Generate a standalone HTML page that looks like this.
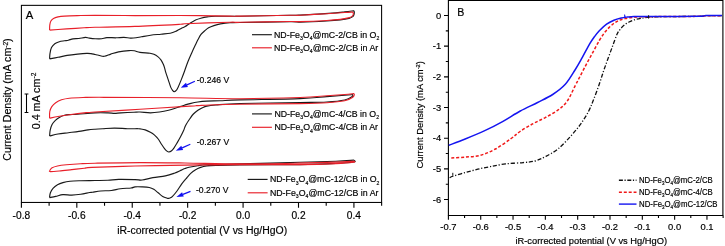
<!DOCTYPE html>
<html><head><meta charset="utf-8"><title>CV and LSV curves</title><style>html,body{margin:0;padding:0;background:#fff}</style></head><body>
<svg width="725" height="246" viewBox="0 0 725 246" style="display:block;will-change:transform;font-family:'Liberation Sans',sans-serif" fill="#000"><style>text{stroke:#000;stroke-width:0.18px;paint-order:stroke}</style>
<rect width="725" height="246" fill="#fff"/>
<rect x="21.4" y="5.35" width="360.20000000000005" height="197.10" fill="none" stroke="#000" stroke-width="1.05"/>
<path d="M21.40,202.45v5.2M49.11,202.45v3.2M76.82,202.45v5.2M104.53,202.45v3.2M132.24,202.45v5.2M159.95,202.45v3.2M187.66,202.45v5.2M215.37,202.45v3.2M243.08,202.45v5.2M270.79,202.45v3.2M298.50,202.45v5.2M326.21,202.45v3.2M353.92,202.45v5.2M381.63,202.45v3.2" stroke="#000" stroke-width="1.1" fill="none"/>
<text x="21.40" y="218.6" font-size="10.2" text-anchor="middle">-0.8</text>
<text x="76.82" y="218.6" font-size="10.2" text-anchor="middle">-0.6</text>
<text x="132.24" y="218.6" font-size="10.2" text-anchor="middle">-0.4</text>
<text x="187.66" y="218.6" font-size="10.2" text-anchor="middle">-0.2</text>
<text x="243.08" y="218.6" font-size="10.2" text-anchor="middle">0.0</text>
<text x="298.50" y="218.6" font-size="10.2" text-anchor="middle">0.2</text>
<text x="353.92" y="218.6" font-size="10.2" text-anchor="middle">0.4</text>
<text x="202.2" y="234.3" font-size="10.45" text-anchor="middle">iR-corrected potential (V vs Hg/HgO)</text>
<text transform="translate(11.2,99.5) rotate(-90)" font-size="10.65" text-anchor="middle">Current Density (mA cm<tspan font-size="6.60" dy="-3.6">-2</tspan><tspan dy="3.6">)</tspan></text>
<text x="25.8" y="19.4" font-size="11.3">A</text>
<path d="M26.5,94.0V112.4M24.6,94.0h3.8M24.6,112.4h3.8" stroke="#000" stroke-width="1.05" fill="none"/>
<text transform="translate(40.0,101) rotate(-90)" font-size="10.75" text-anchor="middle">0.4 mA cm<tspan font-size="6.6" dy="-3.8">-2</tspan></text>
<path d="M49.60,58.90C49.67,57.98 49.68,55.28 50.00,53.40C50.32,51.52 50.70,49.22 51.50,47.60C52.30,45.98 53.50,44.68 54.80,43.70C56.10,42.72 57.68,42.18 59.30,41.70C60.92,41.22 62.98,41.05 64.50,40.80C66.02,40.55 66.98,40.52 68.40,40.20C69.82,39.88 71.25,39.18 73.00,38.90C74.75,38.62 76.83,38.75 78.90,38.50C80.97,38.25 83.67,37.47 85.40,37.40C87.13,37.33 87.67,37.88 89.30,38.10C90.93,38.32 93.13,38.60 95.20,38.70C97.27,38.80 99.75,38.88 101.70,38.70C103.65,38.52 104.52,37.75 106.90,37.60C109.28,37.45 113.17,37.83 116.00,37.80C118.83,37.77 121.50,37.35 123.90,37.40C126.30,37.45 128.38,38.03 130.40,38.10C132.42,38.17 134.15,38.02 136.00,37.80C137.85,37.58 139.07,37.23 141.50,36.80C143.93,36.37 147.35,35.63 150.60,35.20C153.85,34.77 157.73,34.52 161.00,34.20C164.27,33.88 167.58,33.85 170.20,33.30C172.82,32.75 174.75,31.77 176.70,30.90C178.65,30.03 180.48,28.82 181.90,28.10C183.32,27.38 183.78,27.45 185.20,26.60C186.62,25.75 188.67,24.10 190.40,23.00C192.13,21.90 193.87,20.80 195.60,20.00C197.33,19.20 198.85,18.72 200.80,18.20C202.75,17.68 204.90,17.22 207.30,16.90C209.70,16.58 209.75,16.42 215.20,16.30C220.65,16.18 227.53,16.37 240.00,16.20C252.47,16.03 280.00,15.48 290.00,15.30C300.00,15.12 292.37,15.50 300.00,15.10C307.63,14.70 328.35,13.43 335.80,12.90C343.25,12.37 341.72,12.27 344.70,11.90C347.68,11.53 352.20,10.90 353.70,10.70C353.80,10.92 354.25,11.37 354.30,12.00C354.35,12.63 354.25,13.73 354.00,14.50C353.75,15.27 353.63,15.95 352.80,16.60C351.97,17.25 351.08,17.85 349.00,18.40C346.92,18.95 344.00,19.47 340.30,19.90C336.60,20.33 333.52,20.63 326.80,21.00C320.08,21.37 306.13,21.97 300.00,22.10C293.87,22.23 300.00,21.73 290.00,21.80C280.00,21.87 250.00,22.35 240.00,22.50C230.00,22.65 233.27,22.47 230.00,22.70C226.73,22.93 223.08,23.42 220.40,23.90C217.72,24.38 215.87,24.95 213.90,25.60C211.93,26.25 210.13,26.93 208.60,27.80C207.07,28.67 206.00,29.65 204.70,30.80C203.40,31.95 201.92,33.23 200.80,34.70C199.68,36.17 198.87,37.97 198.00,39.60C197.13,41.23 196.65,42.28 195.60,44.50C194.55,46.72 193.00,49.98 191.70,52.90C190.40,55.82 189.00,58.95 187.80,62.00C186.60,65.05 185.58,68.27 184.50,71.20C183.42,74.13 182.38,76.90 181.30,79.60C180.22,82.30 178.88,85.55 178.00,87.40C177.12,89.25 176.65,89.98 176.00,90.70C175.35,91.42 174.63,91.70 174.10,91.70C173.57,91.70 173.35,91.42 172.80,90.70C172.25,89.98 171.57,89.25 170.80,87.40C170.03,85.55 169.07,82.20 168.20,79.60C167.33,77.00 166.20,73.73 165.60,71.80C165.00,69.87 164.98,69.25 164.60,68.00C164.22,66.75 163.88,65.62 163.30,64.30C162.72,62.98 162.02,61.38 161.10,60.10C160.18,58.82 159.00,57.58 157.80,56.60C156.60,55.62 155.20,54.77 153.90,54.20C152.60,53.63 152.32,53.50 150.00,53.20C147.68,52.90 142.62,52.80 140.00,52.40C137.38,52.00 136.13,51.10 134.30,50.80C132.47,50.50 131.62,50.42 129.00,50.60C126.38,50.78 121.63,51.32 118.60,51.90C115.57,52.48 113.18,53.37 110.80,54.10C108.42,54.83 106.47,56.15 104.30,56.30C102.13,56.45 99.35,55.30 97.80,55.00C96.25,54.70 96.13,54.73 95.00,54.50C93.87,54.27 92.38,53.78 91.00,53.60C89.62,53.42 88.93,53.32 86.70,53.40C84.47,53.48 80.87,53.77 77.60,54.10C74.33,54.43 70.37,54.87 67.10,55.40C63.83,55.93 60.92,56.72 58.00,57.30C55.08,57.88 51.00,58.63 49.60,58.90" fill="none" stroke="#1a1a1a" stroke-width="1.15" stroke-linejoin="round"/>
<path d="M49.60,30.10C49.63,29.23 49.58,26.42 49.80,24.90C50.02,23.38 50.28,22.08 50.90,21.00C51.52,19.92 52.32,19.08 53.50,18.40C54.68,17.72 56.17,17.28 58.00,16.90C59.83,16.52 61.23,16.32 64.50,16.10C67.77,15.88 72.52,15.73 77.60,15.60C82.68,15.47 85.43,15.30 95.00,15.30C104.57,15.30 120.83,15.57 135.00,15.60C149.17,15.63 164.17,15.42 180.00,15.50C195.83,15.58 220.00,16.00 230.00,16.10C240.00,16.20 230.00,16.23 240.00,16.10C250.00,15.97 280.00,15.45 290.00,15.30C300.00,15.15 293.87,15.47 300.00,15.20C306.13,14.93 319.35,14.15 326.80,13.70C334.25,13.25 340.37,12.77 344.70,12.50C349.03,12.23 351.45,12.17 352.80,12.10C352.90,12.38 353.48,13.13 353.40,13.80C353.32,14.47 353.15,15.42 352.30,16.10C351.45,16.78 350.30,17.35 348.30,17.90C346.30,18.45 343.88,18.97 340.30,19.40C336.72,19.83 333.52,20.13 326.80,20.50C320.08,20.87 306.13,21.43 300.00,21.60C293.87,21.77 300.00,21.38 290.00,21.50C280.00,21.62 250.00,22.18 240.00,22.30C230.00,22.42 239.17,21.95 230.00,22.20C220.83,22.45 193.33,23.45 185.00,23.80C176.67,24.15 188.33,23.87 180.00,24.30C171.67,24.73 149.17,25.90 135.00,26.40C120.83,26.90 103.48,27.07 95.00,27.30C86.52,27.53 88.10,27.58 84.10,27.80C80.10,28.02 75.35,28.32 71.00,28.60C66.65,28.88 61.57,29.25 58.00,29.50C54.43,29.75 51.00,30.00 49.60,30.10" fill="none" stroke="#e8202a" stroke-width="1.15" stroke-linejoin="round"/>
<path d="M49.60,136.00C49.70,135.02 49.77,132.05 50.20,130.10C50.63,128.15 51.33,125.92 52.20,124.30C53.07,122.68 54.22,121.55 55.40,120.40C56.58,119.25 57.78,118.27 59.30,117.40C60.82,116.53 62.72,115.67 64.50,115.20C66.28,114.73 67.82,114.75 70.00,114.60C72.18,114.45 73.43,114.58 77.60,114.30C81.77,114.02 89.93,113.13 95.00,112.90C100.07,112.67 104.75,112.82 108.00,112.90C111.25,112.98 112.33,113.40 114.50,113.40C116.67,113.40 117.75,113.10 121.00,112.90C124.25,112.70 130.83,112.35 134.00,112.20C137.17,112.05 137.27,111.90 140.00,112.00C142.73,112.10 147.15,112.80 150.40,112.80C153.65,112.80 156.47,112.43 159.50,112.00C162.53,111.57 165.77,110.90 168.60,110.20C171.43,109.50 174.77,108.35 176.50,107.80C178.23,107.25 177.70,107.33 179.00,106.90C180.30,106.47 182.47,105.75 184.30,105.20C186.13,104.65 187.73,104.13 190.00,103.60C192.27,103.07 195.10,102.42 197.90,102.00C200.70,101.58 203.07,101.32 206.80,101.10C210.53,100.88 214.77,100.90 220.30,100.70C225.83,100.50 226.72,100.25 240.00,99.90C253.28,99.55 285.53,99.15 300.00,98.60C314.47,98.05 319.35,97.15 326.80,96.60C334.25,96.05 340.42,95.63 344.70,95.30C348.98,94.97 351.20,94.72 352.50,94.60C352.47,94.92 353.60,95.60 352.30,96.50C351.00,97.40 348.95,99.08 344.70,100.00C340.45,100.92 334.25,101.57 326.80,102.00C319.35,102.43 314.47,102.35 300.00,102.60C285.53,102.85 254.03,103.10 240.00,103.50C225.97,103.90 221.33,104.57 215.80,105.00C210.27,105.43 209.03,105.65 206.80,106.10C204.57,106.55 203.88,107.00 202.40,107.70C200.92,108.40 199.40,109.25 197.90,110.30C196.40,111.35 194.72,112.63 193.40,114.00C192.08,115.37 191.30,116.60 190.00,118.50C188.70,120.40 186.67,123.38 185.60,125.40C184.53,127.42 184.47,128.65 183.60,130.60C182.73,132.55 181.48,135.05 180.40,137.10C179.32,139.15 178.18,141.07 177.10,142.90C176.02,144.73 174.87,146.75 173.90,148.10C172.93,149.45 172.13,150.35 171.30,151.00C170.47,151.65 169.57,151.93 168.90,152.00C168.23,152.07 168.00,151.93 167.30,151.40C166.60,150.87 165.67,150.00 164.70,148.80C163.73,147.60 162.58,145.83 161.50,144.20C160.42,142.57 159.40,140.55 158.20,139.00C157.00,137.45 155.60,136.02 154.30,134.90C153.00,133.78 151.92,133.13 150.40,132.30C148.88,131.47 146.93,130.47 145.20,129.90C143.47,129.33 141.20,129.10 140.00,128.90C138.80,128.70 140.07,128.73 138.00,128.70C135.93,128.67 131.52,128.80 127.60,128.70C123.68,128.60 118.63,128.10 114.50,128.10C110.37,128.10 106.05,128.52 102.80,128.70C99.55,128.88 97.47,129.00 95.00,129.20C92.53,129.40 90.68,129.53 88.00,129.90C85.32,130.27 82.17,130.93 78.90,131.40C75.63,131.87 71.88,132.27 68.40,132.70C64.92,133.13 61.13,133.45 58.00,134.00C54.87,134.55 51.00,135.67 49.60,136.00" fill="none" stroke="#1a1a1a" stroke-width="1.15" stroke-linejoin="round"/>
<path d="M49.60,118.20C49.63,117.08 49.43,113.43 49.80,111.50C50.17,109.57 50.82,108.07 51.80,106.60C52.78,105.13 54.08,103.83 55.70,102.70C57.32,101.57 59.23,100.55 61.50,99.80C63.77,99.05 65.72,98.58 69.30,98.20C72.88,97.82 77.22,97.65 83.00,97.50C88.78,97.35 87.83,97.25 104.00,97.30C120.17,97.35 157.33,97.57 180.00,97.80C202.67,98.03 220.00,98.75 240.00,98.70C260.00,98.65 285.53,97.98 300.00,97.50C314.47,97.02 319.35,96.30 326.80,95.80C334.25,95.30 340.22,94.87 344.70,94.50C349.18,94.13 352.20,93.75 353.70,93.60C353.80,93.75 354.45,93.90 354.30,94.50C354.15,95.10 354.40,96.15 352.80,97.20C351.20,98.25 349.03,99.87 344.70,100.80C340.37,101.73 334.25,102.33 326.80,102.80C319.35,103.27 314.47,103.37 300.00,103.60C285.53,103.83 254.03,104.02 240.00,104.20C225.97,104.38 222.82,104.47 215.80,104.70C208.78,104.93 202.20,105.37 197.90,105.60C193.60,105.83 199.65,105.48 190.00,106.10C180.35,106.72 155.83,108.32 140.00,109.30C124.17,110.28 104.32,111.40 95.00,112.00C85.68,112.60 88.10,112.48 84.10,112.90C80.10,113.32 75.35,113.90 71.00,114.50C66.65,115.10 61.57,115.88 58.00,116.50C54.43,117.12 51.00,117.92 49.60,118.20" fill="none" stroke="#e8202a" stroke-width="1.15" stroke-linejoin="round"/>
<path d="M49.50,197.60C49.65,196.80 49.82,194.33 50.40,192.80C50.98,191.27 51.82,189.73 53.00,188.40C54.18,187.07 55.85,185.77 57.50,184.80C59.15,183.83 60.82,183.20 62.90,182.60C64.98,182.00 67.03,181.52 70.00,181.20C72.97,180.88 76.53,180.82 80.70,180.70C84.87,180.58 90.47,180.57 95.00,180.50C99.53,180.43 103.97,180.48 107.90,180.30C111.83,180.12 114.08,179.52 118.60,179.40C123.12,179.28 131.08,179.50 135.00,179.60C138.92,179.70 139.12,180.33 142.10,180.00C145.08,179.67 149.02,178.28 152.90,177.60C156.78,176.92 161.83,176.63 165.40,175.90C168.97,175.17 171.63,174.17 174.30,173.20C176.97,172.23 179.62,170.88 181.40,170.10C183.18,169.32 183.73,168.97 185.00,168.50C186.27,168.03 186.85,167.77 189.00,167.30C191.15,166.83 194.93,166.13 197.90,165.70C200.87,165.27 199.78,165.00 206.80,164.70C213.82,164.40 224.47,164.30 240.00,163.90C255.53,163.50 284.03,162.75 300.00,162.30C315.97,161.85 326.85,161.57 335.80,161.20C344.75,160.83 350.72,160.28 353.70,160.10C353.83,160.20 354.53,160.38 354.50,160.70C354.47,161.02 356.62,161.55 353.50,162.00C350.38,162.45 344.72,162.97 335.80,163.40C326.88,163.83 315.97,164.35 300.00,164.60C284.03,164.85 254.03,164.77 240.00,164.90C225.97,165.03 221.33,165.22 215.80,165.40C210.27,165.58 209.33,165.67 206.80,166.00C204.27,166.33 202.53,166.75 200.60,167.40C198.67,168.05 196.85,168.90 195.20,169.90C193.55,170.90 192.12,172.05 190.70,173.40C189.28,174.75 187.65,176.93 186.70,178.00C185.75,179.07 185.88,178.73 185.00,179.80C184.12,180.87 182.73,182.53 181.40,184.40C180.07,186.27 178.48,189.00 177.00,191.00C175.52,193.00 173.67,195.23 172.50,196.40C171.33,197.57 170.65,197.67 170.00,198.00C169.35,198.33 169.08,198.37 168.60,198.40C168.12,198.43 168.08,198.53 167.10,198.20C166.12,197.87 164.18,197.30 162.70,196.40C161.22,195.50 159.68,193.98 158.20,192.80C156.72,191.62 155.28,190.18 153.80,189.30C152.32,188.42 151.25,187.90 149.30,187.50C147.35,187.10 144.48,187.00 142.10,186.90C139.72,186.80 136.83,186.72 135.00,186.90C133.17,187.08 133.53,187.70 131.10,188.00C128.67,188.30 123.68,188.28 120.40,188.70C117.12,189.12 114.68,190.12 111.40,190.50C108.12,190.88 103.85,190.72 100.70,191.00C97.55,191.28 94.35,191.95 92.50,192.20C90.65,192.45 91.57,192.15 89.60,192.50C87.63,192.85 83.67,193.87 80.70,194.30C77.73,194.73 74.77,195.05 71.80,195.10C68.83,195.15 65.58,194.38 62.90,194.60C60.22,194.82 57.93,195.90 55.70,196.40C53.47,196.90 50.53,197.40 49.50,197.60" fill="none" stroke="#1a1a1a" stroke-width="1.15" stroke-linejoin="round"/>
<path d="M49.50,170.90C49.93,170.38 50.77,168.62 52.10,167.80C53.43,166.98 55.12,166.50 57.50,166.00C59.88,165.50 62.53,165.18 66.40,164.80C70.27,164.42 75.93,163.97 80.70,163.70C85.47,163.43 85.12,163.38 95.00,163.20C104.88,163.02 125.00,162.63 140.00,162.60C155.00,162.57 168.33,162.78 185.00,163.00C201.67,163.22 220.83,163.88 240.00,163.90C259.17,163.92 284.03,163.40 300.00,163.10C315.97,162.80 326.88,162.42 335.80,162.10C344.72,161.78 350.55,161.35 353.50,161.20C353.50,161.37 356.45,161.80 353.50,162.20C350.55,162.60 344.72,163.20 335.80,163.60C326.88,164.00 315.97,164.43 300.00,164.60C284.03,164.77 255.53,164.55 240.00,164.60C224.47,164.65 215.97,164.82 206.80,164.90C197.63,164.98 196.97,164.92 185.00,165.10C173.03,165.28 150.50,165.62 135.00,166.00C119.50,166.38 100.45,167.03 92.00,167.40C83.55,167.77 87.67,167.83 84.30,168.20C80.93,168.57 75.97,169.13 71.80,169.60C67.63,170.07 62.87,170.67 59.30,171.00C55.73,171.33 52.03,171.62 50.40,171.60C48.77,171.58 49.65,171.02 49.50,170.90" fill="none" stroke="#e8202a" stroke-width="1.15" stroke-linejoin="round"/>
<path d="M252,34.7H271.9" stroke="#1a1a1a" stroke-width="1.15"/>
<text x="274.0" y="37.70" font-size="9.2" textLength="105.3" lengthAdjust="spacingAndGlyphs">ND-Fe<tspan font-size="58%" dy="2.4">3</tspan><tspan dy="-2.4">O</tspan><tspan font-size="58%" dy="2.4">4</tspan><tspan dy="-2.4">@mC-2/CB</tspan> in O<tspan font-size="58%" dy="2.4">2</tspan></text>
<path d="M252,47.8H271.9" stroke="#e8202a" stroke-width="1.15"/>
<text x="274.0" y="50.80" font-size="9.2" textLength="104.3" lengthAdjust="spacingAndGlyphs">ND-Fe<tspan font-size="58%" dy="2.4">3</tspan><tspan dy="-2.4">O</tspan><tspan font-size="58%" dy="2.4">4</tspan><tspan dy="-2.4">@mC-2/CB</tspan> in Ar</text>
<path d="M252,113.9H271.9" stroke="#1a1a1a" stroke-width="1.15"/>
<text x="274.4" y="116.90" font-size="9.2" textLength="104.6" lengthAdjust="spacingAndGlyphs">ND-Fe<tspan font-size="58%" dy="2.4">3</tspan><tspan dy="-2.4">O</tspan><tspan font-size="58%" dy="2.4">4</tspan><tspan dy="-2.4">@mC-4/CB</tspan> in O<tspan font-size="58%" dy="2.4">2</tspan></text>
<path d="M252,127.3H271.9" stroke="#e8202a" stroke-width="1.15"/>
<text x="274.4" y="130.30" font-size="9.2" textLength="103.6" lengthAdjust="spacingAndGlyphs">ND-Fe<tspan font-size="58%" dy="2.4">3</tspan><tspan dy="-2.4">O</tspan><tspan font-size="58%" dy="2.4">4</tspan><tspan dy="-2.4">@mC-4/CB</tspan> in Ar</text>
<path d="M247.7,179.4H267.6" stroke="#1a1a1a" stroke-width="1.15"/>
<text x="269.9" y="182.40" font-size="9.2" textLength="109.5" lengthAdjust="spacingAndGlyphs">ND-Fe<tspan font-size="58%" dy="2.4">3</tspan><tspan dy="-2.4">O</tspan><tspan font-size="58%" dy="2.4">4</tspan><tspan dy="-2.4">@mC-12/CB</tspan> in O<tspan font-size="58%" dy="2.4">2</tspan></text>
<path d="M247.7,192.8H267.6" stroke="#e8202a" stroke-width="1.15"/>
<text x="269.9" y="195.80" font-size="9.2" textLength="108.6" lengthAdjust="spacingAndGlyphs">ND-Fe<tspan font-size="58%" dy="2.4">3</tspan><tspan dy="-2.4">O</tspan><tspan font-size="58%" dy="2.4">4</tspan><tspan dy="-2.4">@mC-12/CB</tspan> in Ar</text>
<path d="M194.90,81.20L186.96,84.87" stroke="#1010f0" stroke-width="1.2"/>
<path d="M180.60,87.80L185.99,82.78L187.92,86.95Z" fill="#1010f0"/>
<text x="196.7" y="83.4" font-size="8.6">-0.246 V</text>
<path d="M190.30,144.20L182.19,147.84" stroke="#1010f0" stroke-width="1.2"/>
<path d="M175.80,150.70L181.25,145.74L183.13,149.94Z" fill="#1010f0"/>
<text x="196.7" y="145.3" font-size="8.6">-0.267 V</text>
<path d="M190.50,191.40L182.92,194.36" stroke="#1010f0" stroke-width="1.2"/>
<path d="M176.40,196.90L182.09,192.21L183.76,196.50Z" fill="#1010f0"/>
<text x="196.0" y="193.4" font-size="8.6">-0.270 V</text>
<path d="M448.4,0.5H722.9V215.5H448.4Z" fill="none" stroke="#000" stroke-width="1.1"/>
<path d="M448.40,215.5v4.2M464.56,215.5v2.6M480.72,215.5v4.2M496.88,215.5v2.6M513.04,215.5v4.2M529.20,215.5v2.6M545.36,215.5v4.2M561.52,215.5v2.6M577.68,215.5v4.2M593.84,215.5v2.6M610.00,215.5v4.2M626.16,215.5v2.6M642.32,215.5v4.2M658.48,215.5v2.6M674.64,215.5v4.2M690.80,215.5v2.6M706.96,215.5v4.2M723.12,215.5v2.6M448.4,15.50h-4.4M448.4,30.84h-2.6M448.4,46.17h-4.4M448.4,61.51h-2.6M448.4,76.84h-4.4M448.4,92.18h-2.6M448.4,107.51h-4.4M448.4,122.84h-2.6M448.4,138.18h-4.4M448.4,153.52h-2.6M448.4,168.85h-4.4M448.4,184.19h-2.6M448.4,199.52h-4.4" stroke="#000" stroke-width="1.1" fill="none"/>
<text x="448.40" y="230.1" font-size="9.4" text-anchor="middle">-0.7</text>
<text x="480.72" y="230.1" font-size="9.4" text-anchor="middle">-0.6</text>
<text x="513.04" y="230.1" font-size="9.4" text-anchor="middle">-0.5</text>
<text x="545.36" y="230.1" font-size="9.4" text-anchor="middle">-0.4</text>
<text x="577.68" y="230.1" font-size="9.4" text-anchor="middle">-0.3</text>
<text x="610.00" y="230.1" font-size="9.4" text-anchor="middle">-0.2</text>
<text x="642.32" y="230.1" font-size="9.4" text-anchor="middle">-0.1</text>
<text x="674.64" y="230.1" font-size="9.4" text-anchor="middle">0.0</text>
<text x="706.96" y="230.1" font-size="9.4" text-anchor="middle">0.1</text>
<text x="441.2" y="18.60" font-size="9.4" text-anchor="end">0</text>
<text x="441.2" y="49.27" font-size="9.4" text-anchor="end">-1</text>
<text x="441.2" y="79.94" font-size="9.4" text-anchor="end">-2</text>
<text x="441.2" y="110.61" font-size="9.4" text-anchor="end">-3</text>
<text x="441.2" y="141.28" font-size="9.4" text-anchor="end">-4</text>
<text x="441.2" y="171.95" font-size="9.4" text-anchor="end">-5</text>
<text x="441.2" y="202.62" font-size="9.4" text-anchor="end">-6</text>
<text x="591.3" y="243.5" font-size="9.32" text-anchor="middle">iR-corrected potential (V vs Hg/HgO)</text>
<text transform="translate(422.5,114.8) rotate(-90)" font-size="9.35" text-anchor="middle">Current Density (mA cm<tspan font-size="5.80" dy="-3">-2</tspan><tspan dy="3">)</tspan></text>
<text x="457.2" y="16.3" font-size="10.6">B</text>
<path d="M449.60,177.70C450.17,177.45 450.40,177.05 453.00,176.20C455.60,175.35 461.07,173.77 465.20,172.60C469.33,171.43 473.60,170.20 477.80,169.20C482.00,168.20 485.78,167.48 490.40,166.60C495.02,165.72 500.05,164.57 505.50,163.90C510.95,163.23 518.18,163.08 523.10,162.60C528.02,162.12 531.32,161.98 535.00,161.00C538.68,160.02 541.40,158.68 545.20,156.70C549.00,154.72 553.60,152.47 557.80,149.10C562.00,145.73 566.57,140.70 570.40,136.50C574.23,132.30 577.77,128.10 580.80,123.90C583.83,119.70 586.52,115.23 588.60,111.30C590.68,107.37 591.58,104.63 593.30,100.30C595.02,95.97 597.22,90.10 598.90,85.30C600.58,80.50 601.97,75.72 603.40,71.50C604.83,67.28 606.00,64.15 607.50,60.00C609.00,55.85 610.83,50.83 612.40,46.60C613.97,42.37 615.67,37.40 616.90,34.60C618.13,31.80 618.67,31.30 619.80,29.80C620.93,28.30 622.17,26.90 623.70,25.60C625.23,24.30 627.12,23.00 629.00,22.00C630.88,21.00 633.00,20.22 635.00,19.60C637.00,18.98 638.50,18.70 641.00,18.30C643.50,17.90 646.50,17.47 650.00,17.20C653.50,16.93 653.67,16.85 662.00,16.70C670.33,16.55 692.67,16.47 700.00,16.30C707.33,16.13 702.33,15.80 706.00,15.70C709.67,15.60 719.33,15.70 722.00,15.70" fill="none" stroke="#111" stroke-width="1.3" stroke-dasharray="4.2 1.8 1.2 1.8"/>
<path d="M451.30,157.90C453.62,157.77 460.37,157.53 465.20,157.10C470.03,156.67 475.27,156.65 480.30,155.30C485.33,153.95 490.37,151.72 495.40,149.00C500.43,146.28 506.40,141.92 510.50,139.00C514.60,136.08 516.32,134.02 520.00,131.50C523.68,128.98 528.40,126.22 532.60,123.90C536.80,121.58 541.00,119.90 545.20,117.60C549.40,115.30 554.17,112.78 557.80,110.10C561.43,107.42 564.07,105.63 567.00,101.50C569.93,97.37 573.23,89.47 575.40,85.30C577.57,81.13 578.40,79.58 580.00,76.50C581.60,73.42 583.42,69.80 585.00,66.80C586.58,63.80 587.93,61.38 589.50,58.50C591.07,55.62 592.77,52.50 594.40,49.50C596.03,46.50 597.68,43.22 599.30,40.50C600.92,37.78 602.48,35.35 604.10,33.20C605.72,31.05 607.37,29.23 609.00,27.60C610.63,25.97 612.27,24.58 613.90,23.40C615.53,22.22 616.95,21.30 618.80,20.50C620.65,19.70 622.63,19.13 625.00,18.60C627.37,18.07 630.17,17.62 633.00,17.30C635.83,16.98 637.50,16.82 642.00,16.70C646.50,16.58 650.33,16.67 660.00,16.60C669.67,16.53 692.33,16.45 700.00,16.30C707.67,16.15 702.33,15.80 706.00,15.70C709.67,15.60 719.33,15.70 722.00,15.70" fill="none" stroke="#f01818" stroke-width="1.5" stroke-dasharray="3.0 1.9"/>
<path d="M448.80,145.30C451.53,144.25 459.12,141.48 465.20,139.00C471.28,136.52 479.00,133.35 485.30,130.40C491.60,127.45 497.17,124.53 503.00,121.30C508.83,118.07 514.53,114.13 520.30,111.00C526.07,107.87 532.20,105.25 537.60,102.50C543.00,99.75 548.08,97.53 552.70,94.50C557.32,91.47 561.58,88.38 565.30,84.30C569.02,80.22 572.18,74.45 575.00,70.00C577.82,65.55 579.78,61.92 582.20,57.60C584.62,53.28 587.47,47.57 589.50,44.10C591.53,40.63 592.77,39.03 594.40,36.80C596.03,34.57 597.27,32.82 599.30,30.70C601.33,28.58 604.17,25.85 606.60,24.10C609.03,22.35 611.47,21.22 613.90,20.20C616.33,19.18 619.02,18.52 621.20,18.00C623.38,17.48 624.87,17.33 627.00,17.10C629.13,16.87 628.50,16.70 634.00,16.60C639.50,16.50 649.00,16.57 660.00,16.50C671.00,16.43 692.33,16.35 700.00,16.20C707.67,16.05 702.33,15.70 706.00,15.60C709.67,15.50 719.33,15.60 722.00,15.60" fill="none" stroke="#1414f0" stroke-width="1.5"/>
<path d="M624.4,16.8L624.6,14.6L625.4,16.8Z" fill="#1414f0" stroke="#1414f0" stroke-width="0.6"/><path d="M648.6,15.2V18.6M452.8,172.8V175.6" stroke="#111" stroke-width="1"/>
<path d="M618.9,180.2H636.5" stroke="#111" stroke-width="1.4" stroke-dasharray="4 1.6 1.2 1.6"/>
<text x="639" y="182.79999999999998" font-size="8.5" textLength="73.8" lengthAdjust="spacingAndGlyphs">ND-Fe<tspan font-size="58%" dy="2.4">3</tspan><tspan dy="-2.4">O</tspan><tspan font-size="58%" dy="2.4">4</tspan><tspan dy="-2.4">@mC-2/CB</tspan></text>
<path d="M618.9,192.2H636.5" stroke="#f01818" stroke-width="1.4" stroke-dasharray="3.0 1.9"/>
<text x="639" y="194.79999999999998" font-size="8.5" textLength="73.8" lengthAdjust="spacingAndGlyphs">ND-Fe<tspan font-size="58%" dy="2.4">3</tspan><tspan dy="-2.4">O</tspan><tspan font-size="58%" dy="2.4">4</tspan><tspan dy="-2.4">@mC-4/CB</tspan></text>
<path d="M618.9,204.1H636.5" stroke="#1414f0" stroke-width="1.4" />
<text x="639" y="206.7" font-size="8.5" textLength="78.5" lengthAdjust="spacingAndGlyphs">ND-Fe<tspan font-size="58%" dy="2.4">3</tspan><tspan dy="-2.4">O</tspan><tspan font-size="58%" dy="2.4">4</tspan><tspan dy="-2.4">@mC-12/CB</tspan></text>
</svg>
</body></html>
